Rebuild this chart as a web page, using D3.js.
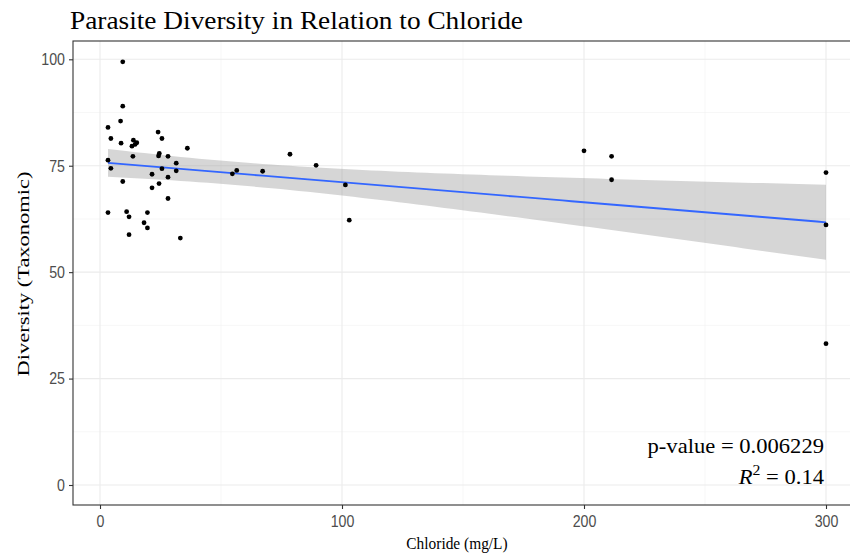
<!DOCTYPE html>
<html>
<head>
<meta charset="utf-8">
<script src="https://cdn.jsdelivr.net/npm/d3@7"></script>
<style>
  body { margin: 0; background: #fff; }
  svg { display: block; }
</style>
</head>
<body>
<svg id="chart" width="850" height="556"></svg>
<script>
// ---- data ----
const chloride = [
  9.4, 9.4, 8.5, 3.3, 4.5, 8.7, 13.8, 14.5, 13.2, 15.2,
  24.0, 25.6, 36.1, 13.6, 24.2, 24.5, 28.1, 3.3, 4.5, 25.6,
  31.5, 31.5, 21.5, 28.1, 24.4, 9.4, 21.5, 28.1, 3.3, 11.0,
  12.0, 19.6, 18.2, 19.6, 12.0, 33.2,
  54.7, 56.5, 67.2, 78.5, 89.3, 101.4, 103.0,
  200.0, 211.4, 211.4, 300.0, 300.0, 300.0
];
const diversity = [
  99.4, 89.0, 85.5, 84.0, 81.4, 80.3, 81.0, 80.0, 79.6, 80.4,
  82.9, 81.4, 79.1, 77.2, 77.3, 77.9, 77.2, 76.3, 74.4, 74.3,
  75.6, 73.8, 73.0, 72.3, 70.8, 71.3, 69.8, 67.3, 64.0, 64.2,
  63.0, 64.0, 61.6, 60.4, 58.8, 58.0,
  73.1, 73.9, 73.7, 77.7, 75.1, 70.5, 62.2,
  78.5, 77.2, 71.7, 73.4, 61.1, 33.2
];
const xTicks = [0, 100, 200, 300];
const xMinor = [50, 150, 250];
const yTicks = [0, 25, 50, 75, 100];
const yMinor = [12.5, 37.5, 62.5, 87.5];
const titleText = "Parasite Diversity in Relation to Chloride";
const xLabel = "Chloride (mg/L)";
const yLabel = "Diversity (Taxonomic)";
const pValueText = "p-value = 0.006229";
const r2Value = "0.14";

// ---- layout ----
const svg = d3.select("#chart");
const panel = { left: 73, right: 862, top: 41, bottom: 505 };
const x = d3.scaleLinear().domain([0, 300]).range([100, 826]);
const y = d3.scaleLinear().domain([0, 100]).range([485, 59.3]);
const serif = "'Liberation Serif', 'Times New Roman', serif";

svg.append("defs").append("clipPath").attr("id", "pclip")
  .append("rect").attr("x", panel.left).attr("y", panel.top)
  .attr("width", panel.right - panel.left).attr("height", panel.bottom - panel.top);

const g = svg.append("g").attr("clip-path", "url(#pclip)");

// grid
g.selectAll(".xminor").data(xMinor).join("line")
  .attr("x1", d => x(d)).attr("x2", d => x(d))
  .attr("y1", panel.top).attr("y2", panel.bottom)
  .attr("stroke", "#F2F2F2").attr("stroke-width", 0.6);
g.selectAll(".yminor").data(yMinor).join("line")
  .attr("y1", d => y(d)).attr("y2", d => y(d))
  .attr("x1", panel.left).attr("x2", panel.right)
  .attr("stroke", "#F2F2F2").attr("stroke-width", 0.6);
g.selectAll(".xmajor").data(xTicks).join("line")
  .attr("x1", d => x(d)).attr("x2", d => x(d))
  .attr("y1", panel.top).attr("y2", panel.bottom)
  .attr("stroke", "#EBEBEB").attr("stroke-width", 1.1);
g.selectAll(".ymajor").data(yTicks).join("line")
  .attr("y1", d => y(d)).attr("y2", d => y(d))
  .attr("x1", panel.left).attr("x2", panel.right)
  .attr("stroke", "#EBEBEB").attr("stroke-width", 1.1);

// linear model fit with 95% CI
const n = chloride.length;
const mx = d3.mean(chloride), my = d3.mean(diversity);
let sxx = 0, sxy = 0;
for (let i = 0; i < n; i++) { sxx += (chloride[i]-mx)**2; sxy += (chloride[i]-mx)*(diversity[i]-my); }
const b1 = sxy / sxx, b0 = my - b1 * mx;
let sse = 0;
for (let i = 0; i < n; i++) { sse += (diversity[i] - b0 - b1*chloride[i])**2; }
const s = Math.sqrt(sse / (n - 2));
const tcrit = 2.013;
const [xmin, xmax] = d3.extent(chloride);
const grid = d3.range(80).map(i => xmin + (xmax - xmin) * i / 79);
const fit = grid.map(xv => {
  const yh = b0 + b1 * xv;
  const se = s * Math.sqrt(1/n + (xv - mx)**2 / sxx);
  return { x: xv, y: yh, lo: yh - tcrit*se, hi: yh + tcrit*se };
});

g.append("path").datum(fit)
  .attr("d", d3.area().x(d => x(d.x)).y0(d => y(d.lo)).y1(d => y(d.hi)))
  .attr("fill", "#999999").attr("fill-opacity", 0.4);
g.append("path").datum(fit)
  .attr("d", d3.line().x(d => x(d.x)).y(d => y(d.y)))
  .attr("fill", "none").attr("stroke", "#3366FF").attr("stroke-width", 1.8);

// points
g.selectAll(".pt").data(chloride).join("circle")
  .attr("cx", d => x(d)).attr("cy", (d, i) => y(diversity[i]))
  .attr("r", 2.4).attr("fill", "#000");

// border
svg.append("rect").attr("x", panel.left).attr("y", panel.top)
  .attr("width", panel.right - panel.left).attr("height", panel.bottom - panel.top)
  .attr("fill", "none").attr("stroke", "#333333").attr("stroke-width", 1.1);

// axes
const xAxis = d3.axisBottom(x).tickValues(xTicks).tickSize(4).tickPadding(6);
const yAxis = d3.axisLeft(y).tickValues(yTicks).tickSize(4).tickPadding(4);
const gx = svg.append("g").attr("transform", `translate(0,${panel.bottom})`).call(xAxis);
const gy = svg.append("g").attr("transform", `translate(${panel.left},0)`).call(yAxis);
[gx, gy].forEach(ax => {
  ax.select(".domain").remove();
  ax.selectAll(".tick line").attr("stroke", "#333333").attr("stroke-width", 1.1);
  ax.selectAll(".tick text").attr("fill", "#4D4D4D")
    .style("font-family", "'Liberation Sans', Arial, sans-serif").style("font-size", "16.5px")
    .each(function() {
      const w = this.getComputedTextLength();
      d3.select(this).attr("textLength", w * 0.86).attr("lengthAdjust", "spacingAndGlyphs");
    });
});

// titles
svg.append("text").attr("x", 70).attr("y", 28.5)
  .style("font-family", serif).style("font-size", "26px")
  .attr("textLength", 453).attr("lengthAdjust", "spacingAndGlyphs")
  .attr("fill", "#000").text(titleText);
svg.append("text").attr("x", 457).attr("y", 549).attr("text-anchor", "middle")
  .style("font-family", serif).style("font-size", "17.5px")
  .attr("fill", "#000")
  .attr("transform", "translate(457,549) scale(0.88,1) translate(-457,-549)")
  .text(xLabel);
svg.append("text").attr("transform", `translate(29,274) rotate(-90)`).attr("text-anchor", "middle")
  .style("font-family", serif).style("font-size", "16px")
  .attr("textLength", 205).attr("lengthAdjust", "spacingAndGlyphs")
  .attr("fill", "#000").text(yLabel);

// annotations
const ann = svg.append("g").attr("transform", "translate(824,0) scale(1.13,1)");
ann.append("text").attr("x", 0).attr("y", 453).attr("text-anchor", "end")
  .style("font-family", serif).style("font-size", "20px")
  .attr("fill", "#000").text(pValueText);
const r2 = ann.append("text").attr("x", 0).attr("y", 484).attr("text-anchor", "end")
  .style("font-family", serif).style("font-size", "20px")
  .attr("fill", "#000");
r2.append("tspan").style("font-style", "italic").text("R");
r2.append("tspan").attr("dy", -9).style("font-size", "14px").text("2");
r2.append("tspan").attr("dy", 9).text(" = " + r2Value);
</script>
</body>
</html>
